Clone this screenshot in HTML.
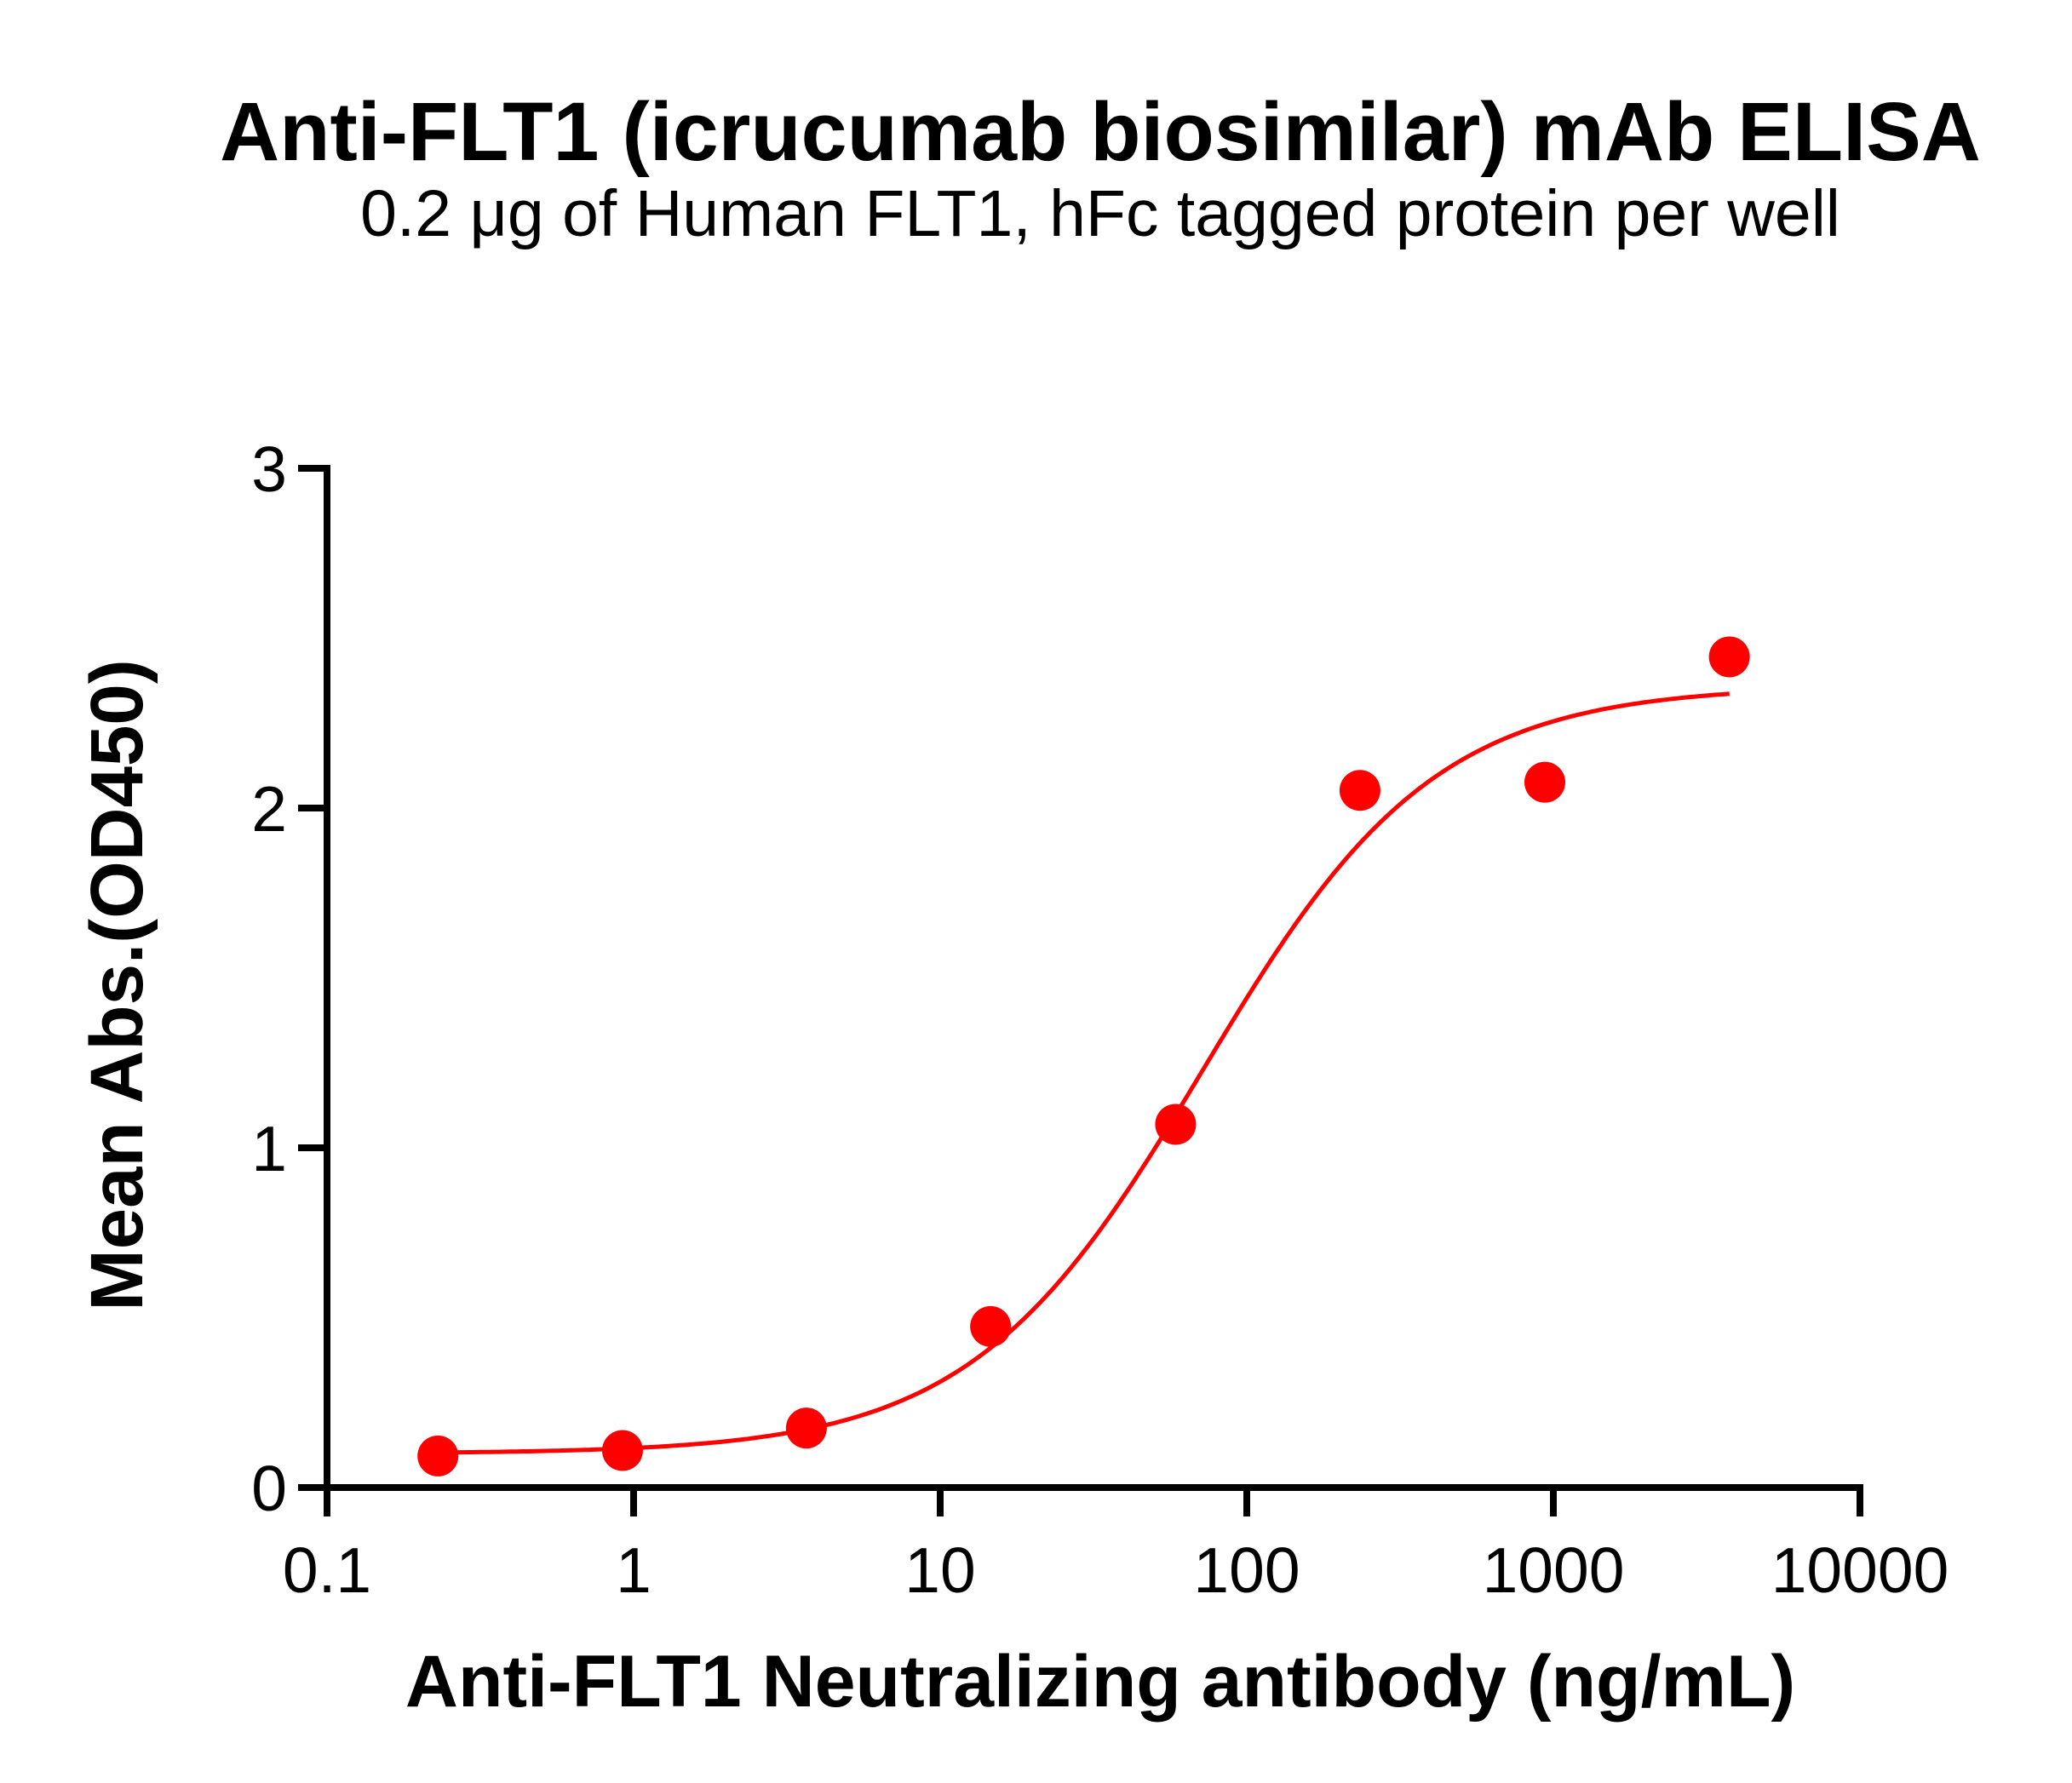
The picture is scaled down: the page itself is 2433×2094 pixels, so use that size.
<!DOCTYPE html>
<html><head><meta charset="utf-8"><style>
html,body{margin:0;padding:0;background:#fff;}
svg{display:block;font-family:"Liberation Sans",Arial,sans-serif;}
</style></head><body>
<svg id="chart" width="2433" height="2094" viewBox="0 0 2433 2094" xmlns="http://www.w3.org/2000/svg">
<text x="1292" y="188" text-anchor="middle" font-size="97" font-weight="bold">Anti-FLT1 (icrucumab biosimilar) mAb ELISA</text>
<text x="1292" y="277" text-anchor="middle" font-size="77">0.2 μg of Human FLT1, hFc tagged protein per well</text>
<text x="1292" y="2004" text-anchor="middle" font-size="86" font-weight="bold">Anti-FLT1 Neutralizing antibody (ng/mL)</text>
<text transform="translate(167,1157) rotate(-90)" text-anchor="middle" font-size="87" font-weight="bold">Mean Abs.(OD450)</text>
<g id="axes"></g>
<g id="marks"></g>
</svg>
<script>
const concentrations=[0.23,0.92,3.66,14.6,58.6,234,938,3750];
const absorbances=[0.093,0.109,0.175,0.474,1.069,2.052,2.076,2.445];
const xTickValues=[0.1,1,10,100,1000,10000];
const xTickLabels=["0.1","1","10","100","1000","10000"];
const yTickValues=[0,1,2,3];
const yTickLabels=["0","1","2","3"];
const fitBottom=0.1, fitTop=2.36, fitEC50=72, fitHill=1.15;

const NS="http://www.w3.org/2000/svg";
const X0=384, DEC=360, Y0=1747, YU=399;
function xs(v){return X0+(Math.log10(v)+1)*DEC;}
function ys(v){return Y0-v*YU;}
function mk(tag,attrs,parent){const e=document.createElementNS(NS,tag);for(const k in attrs)e.setAttribute(k,attrs[k]);parent.appendChild(e);return e;}
const axes=document.getElementById('axes'), marks=document.getElementById('marks');

const yAxis=mk('line',{x1:X0,y1:ys(3)-4,x2:X0,y2:Y0+34,stroke:'#000','stroke-width':8},axes);


const xAxis=mk('line',{x1:X0-34,y1:Y0,x2:xs(10000)+4,y2:Y0,stroke:'#000','stroke-width':8},axes);



xTickValues.forEach((v,i)=>{
  const t=mk('line',{x1:xs(v),y1:Y0,x2:xs(v),y2:Y0+34,stroke:'#000','stroke-width':8},axes);
  
  
  const l=mk('text',{x:xs(v),y:1870,'text-anchor':'middle','font-size':75},axes);
  l.textContent=xTickLabels[i];
  
  
});
yTickValues.forEach((v,i)=>{
  const t=mk('line',{x1:X0-34,y1:ys(v),x2:X0,y2:ys(v),stroke:'#000','stroke-width':8},axes);
  
  
  const l=mk('text',{x:337,y:ys(v)+27,'text-anchor':'end','font-size':75},axes);
  l.textContent=yTickLabels[i];
  
  
});

let d='';
const lo=Math.log10(concentrations[0]), hi=Math.log10(concentrations[concentrations.length-1]);
for(let k=0;k<=300;k++){
  const lx=lo+(hi-lo)*k/300, c=Math.pow(10,lx);
  const y=fitBottom+(fitTop-fitBottom)/(1+Math.pow(fitEC50/c,fitHill));
  d+=(k?'L':'M')+xs(c).toFixed(1)+','+ys(y).toFixed(1);
}
const curve=mk('path',{d:d,fill:'none',stroke:'#ff0000','stroke-width':5},marks);



concentrations.forEach((c,i)=>{
  const p=mk('circle',{cx:xs(c),cy:ys(absorbances[i]),r:24,fill:'#ff0000'},marks);
  
  
});
</script>
</body></html>
